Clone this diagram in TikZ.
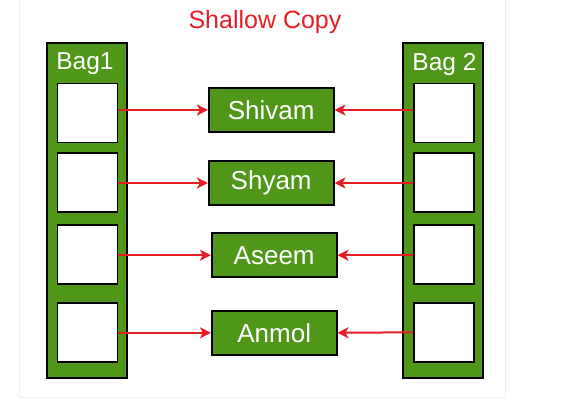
\documentclass[tikz,border=0pt]{standalone}
\usepackage{fontspec}
\setmainfont{Liberation Sans}
\usetikzlibrary{arrows.meta}
\definecolor{bggreen}{RGB}{80,150,25}
\definecolor{arrred}{RGB}{228,30,36}
\definecolor{shadowgray}{RGB}{238,238,238}
\begin{document}
\begin{tikzpicture}[x=1pt,y=-1pt,
  bag/.style={draw=black,line width=1.8pt,fill=bggreen,rectangle,inner sep=0pt,minimum width=80pt,minimum height=335pt},
  slot/.style={draw=black,line width=1.8pt,fill=white,rectangle,inner sep=0pt,minimum width=60pt,minimum height=59pt},
  item/.style={draw=black,line width=1.6pt,fill=bggreen,rectangle,inner sep=0pt,minimum width=125pt,minimum height=44pt,text=white,font=\fontsize{26}{30}\selectfont},
  baglabel/.style={text=white,font=\fontsize{24.5}{28}\selectfont,inner sep=0pt},
  ptr/.style={draw=arrred,line width=2pt,-{Stealth[length=11pt,width=11pt,inset=3pt]}}
]
\useasboundingbox (0,0) rectangle (581,412);
\fill[white] (0,0) rectangle (581,412);
\draw[shadowgray,line width=1pt,fill=white] (19,-2) rectangle (505,397);
\node[text=arrred,font=\fontsize{25}{30}\selectfont,inner sep=0pt] (title) at (265,22) {Shallow Copy};

\node[bag] (bagA) at (87,210.5) {};
\node[bag] (bagB) at (442.7,210.5) {};
\node[baglabel] (bagAl) at (85,64) {Bag1};
\node[baglabel] (bagBl) at (444.5,64) {Bag 2};

\node[slot] (L1) at (87.5,113) {};
\node[slot] (L2) at (87.5,182.2) {};
\node[slot] (L3) at (87.5,254.7) {};
\node[slot] (L4) at (87.5,332.3) {};
\node[slot] (R1) at (443.7,113) {};
\node[slot] (R2) at (443.7,182.2) {};
\node[slot] (R3) at (443.7,254.7) {};
\node[slot] (R4) at (443.7,332.3) {};

\node[item] (S1) at (271.2,110) {Shivam};
\node[item] (S2) at (271.2,183) {Shyam};
\node[item] (S3) at (274.2,255.2) {Aseem};
\node[item] (S4) at (274.2,332.8) {Anmol};

\draw[ptr] (L1.east |- S1.west) -- (S1.west);
\draw[ptr] (L2.east |- S2.west) -- (S2.west);
\draw[ptr] (L3.east |- S3.west) -- (S3.west);
\draw[ptr] (L4.east |- S4.west) -- (S4.west);
\draw[ptr] (R1.west |- S1.east) -- (S1.east);
\draw[ptr] (R2.west |- S2.east) -- (S2.east);
\draw[ptr] (R3.west |- S3.east) -- (S3.east);
\draw[ptr] (R4.west) -- (S4.east);
\end{tikzpicture}
\end{document}
